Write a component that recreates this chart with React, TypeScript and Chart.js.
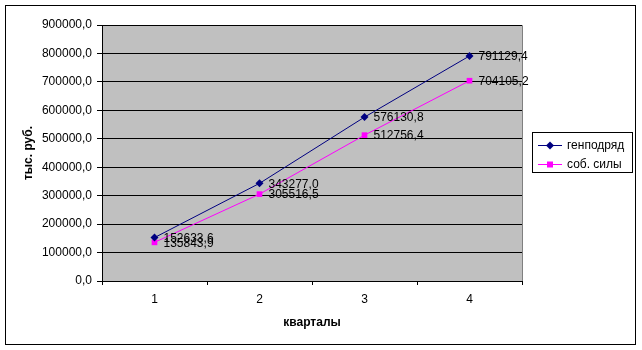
import React, { useEffect, useRef } from "react";
import { Chart, registerables } from "chart.js";

Chart.register(...registerables);

const categories = ["1", "2", "3", "4"];
const genpodryad = [152633.6, 343277.0, 576130.8, 791129.4];
const sobSily = [135843.9, 305516.5, 512756.4, 704105.2];
const seriesNames = ["генподряд", "соб. силы"];
const yTitle = "тыс. руб.";
const xTitle = "кварталы";

const FONT = "'Liberation Sans', Arial, sans-serif";
const fmt = (v: number) => v.toFixed(1).replace(".", ",");

const framePlugin = {
  id: "frame",
  beforeDraw(chart: any) {
    const { ctx, chartArea: a } = chart;
    ctx.save();
    ctx.fillStyle = "#ffffff";
    ctx.fillRect(0, 0, chart.width, chart.height);
    ctx.strokeStyle = "#000";
    ctx.lineWidth = 1;
    ctx.strokeRect(5.5, 5.5, 630, 339);
    ctx.fillStyle = "#C0C0C0";
    ctx.fillRect(a.left, a.top, a.right - a.left, a.bottom - a.top);
    ctx.strokeStyle = "#808080";
    ctx.beginPath();
    ctx.moveTo(a.left, a.top + 0.5);
    ctx.lineTo(a.right + 0.5, a.top + 0.5);
    ctx.lineTo(a.right + 0.5, a.bottom);
    ctx.stroke();
    ctx.restore();
  },
  afterDatasetsDraw(chart: any) {
    const { ctx } = chart;
    ctx.save();
    ctx.font = `12px ${FONT}`;
    ctx.fillStyle = "#000";
    ctx.textBaseline = "middle";
    ctx.textAlign = "left";
    chart.data.datasets.forEach((ds: any, i: number) => {
      const meta = chart.getDatasetMeta(i);
      meta.data.forEach((pt: any, j: number) => {
        ctx.fillText(fmt(ds.data[j]), pt.x + 9, pt.y + 1);
      });
    });
    ctx.restore();
  },
  afterDraw(chart: any) {
    const { ctx } = chart;
    ctx.save();
    ctx.strokeStyle = "#000";
    ctx.lineWidth = 1;
    ctx.strokeRect(532.5, 132.5, 100, 40);
    const rows = [145, 164];
    chart.data.datasets.forEach((ds: any, i: number) => {
      const y = rows[i] + 0.5;
      ctx.strokeStyle = ds.borderColor;
      ctx.lineWidth = 1;
      ctx.beginPath();
      ctx.moveTo(538, y);
      ctx.lineTo(562, y);
      ctx.stroke();
      ctx.fillStyle = ds.backgroundColor;
      if (ds.pointStyle === "rect") {
        ctx.fillRect(547, y - 3, 6, 6);
      } else {
        ctx.beginPath();
        ctx.moveTo(550, y - 4);
        ctx.lineTo(554, y);
        ctx.lineTo(550, y + 4);
        ctx.lineTo(546, y);
        ctx.closePath();
        ctx.fill();
      }
      ctx.fillStyle = "#000";
      ctx.font = `12px ${FONT}`;
      ctx.textBaseline = "middle";
      ctx.textAlign = "left";
      ctx.fillText(seriesNames[i], 567, y + 0.5);
    });
    ctx.restore();
  },
};

export default function App() {
  const ref = useRef<HTMLCanvasElement | null>(null);
  useEffect(() => {
    if (!ref.current) return;
    const chart = new Chart(ref.current, {
      type: "line",
      data: {
        labels: categories,
        datasets: [
          {
            label: seriesNames[0],
            data: genpodryad,
            borderColor: "#000080",
            backgroundColor: "#000080",
            borderWidth: 1,
            pointStyle: "rectRot",
            pointRadius: 4,
            pointBorderWidth: 0,
            tension: 0,
          },
          {
            label: seriesNames[1],
            data: sobSily,
            borderColor: "#FF00FF",
            backgroundColor: "#FF00FF",
            borderWidth: 1,
            pointStyle: "rect",
            pointRadius: 4,
            pointBorderWidth: 0,
            tension: 0,
          },
        ],
      },
      plugins: [framePlugin],
      options: {
        responsive: false,
        animation: false,
        layout: { padding: { left: 0, top: 25, right: 120, bottom: 0 } },
        plugins: { legend: { display: false }, tooltip: { enabled: false } },
        scales: {
          x: {
            type: "category",
            offset: true,
            grid: {
              offset: true,
              drawOnChartArea: false,
              drawTicks: true,
              tickLength: 4,
              color: "#000",
            },
            border: { color: "#000", width: 1 },
            ticks: {
              color: "#000",
              font: { size: 12, family: FONT },
              padding: 7,
              maxRotation: 0,
            },
            title: {
              display: true,
              text: xTitle,
              color: "#000",
              font: { size: 12, weight: "bold", family: FONT },
              padding: { top: 0, bottom: 20 },
            },
            afterFit: (s: any) => {
              s.height = 69;
            },
          },
          y: {
            min: 0,
            max: 900000,
            grid: {
              color: "#000",
              tickLength: 5,
              drawTicks: true,
            },
            border: { color: "#000", width: 1 },
            ticks: {
              stepSize: 100000,
              color: "#000",
              font: { size: 12, family: FONT },
              padding: 5,
              callback: (v: any) => fmt(Number(v)),
            },
            title: {
              display: true,
              text: yTitle,
              color: "#000",
              font: { size: 12, weight: "bold", family: FONT },
              padding: { top: 21, bottom: 0 },
            },
            afterFit: (s: any) => {
              s.width = 102;
            },
          },
        },
      },
    });
    return () => chart.destroy();
  }, []);
  return (
    <div style={{ position: "absolute", left: 0, top: 0, width: 642, height: 350 }}>
      <canvas ref={ref} width={642} height={350} style={{ width: 642, height: 350 }} />
    </div>
  );
}
